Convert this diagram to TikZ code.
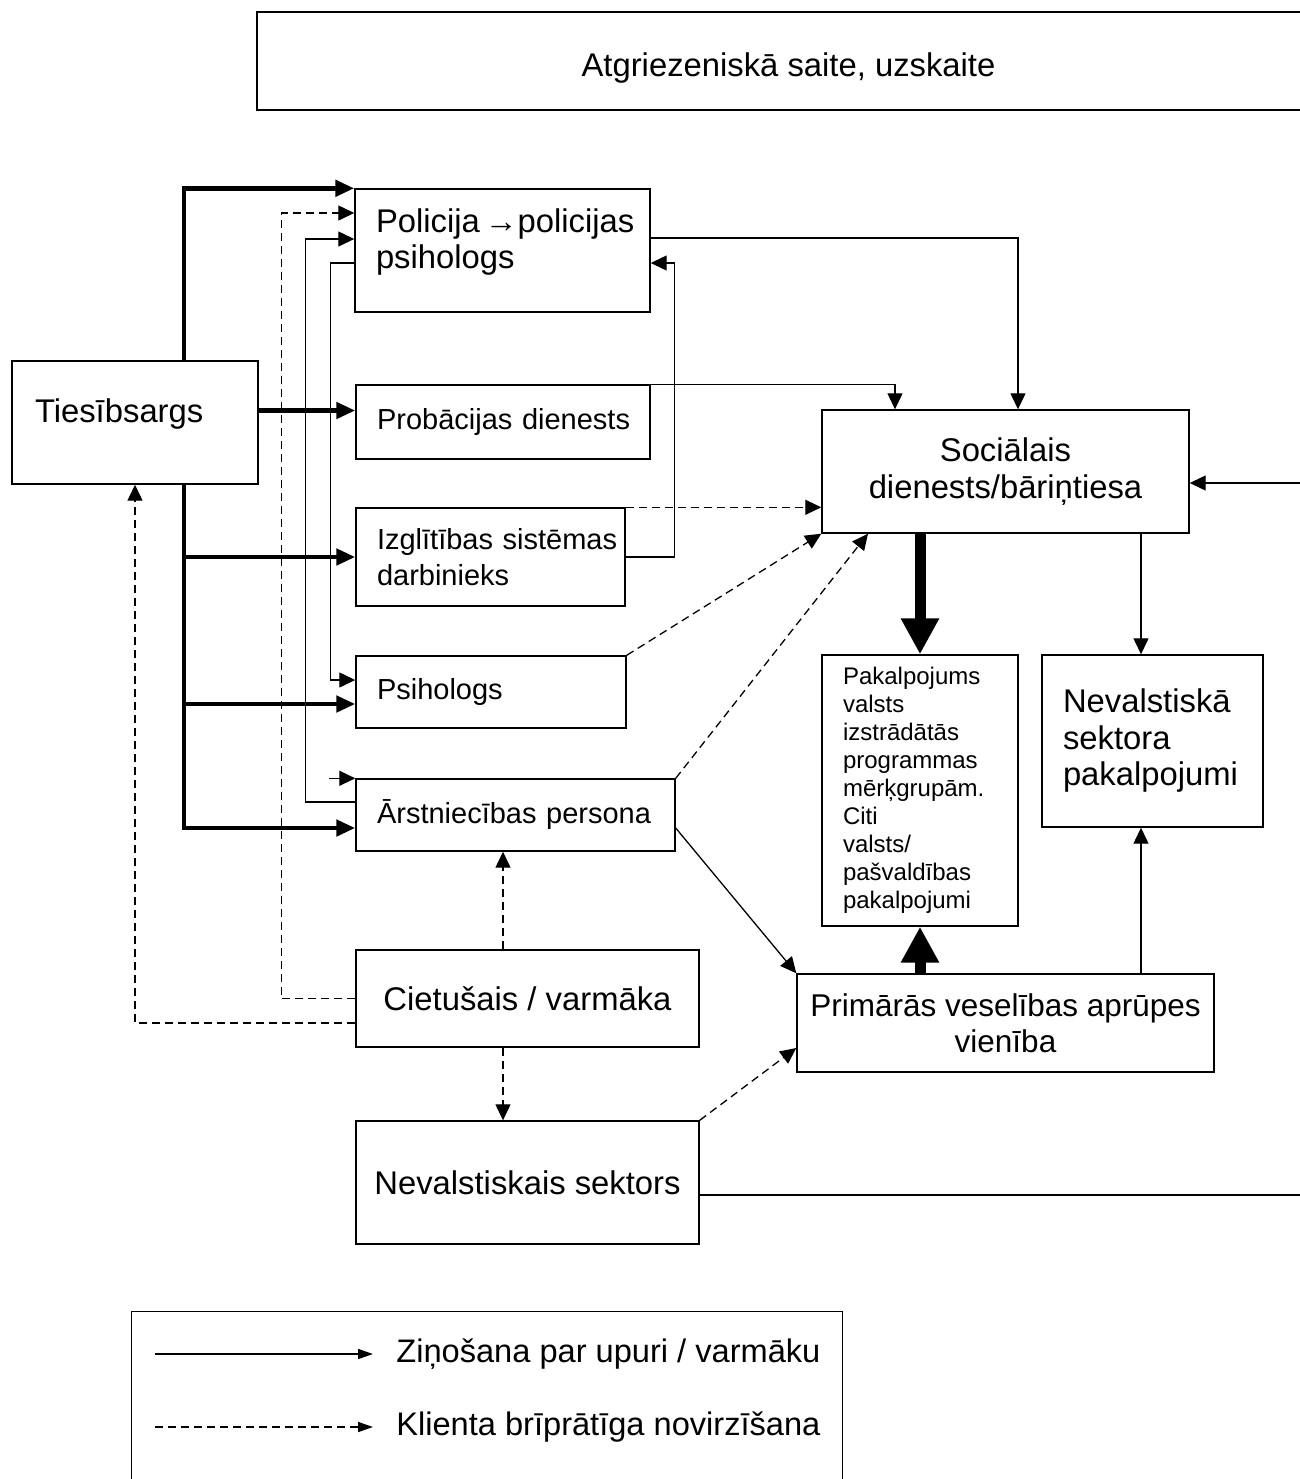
\documentclass[tikz,border=0pt]{standalone}
\usepackage{fontspec}
\setmainfont{Liberation Sans}
\usetikzlibrary{arrows.meta}
\hyphenpenalty=10000
\exhyphenpenalty=10000
\tikzset{b/.style = {draw, line width=0.7pt, inner sep=0pt, align=left, font=\fontsize{14.5}{18}\selectfont},
    B/.style = {b, font=\fontsize{16.4}{18.25}\selectfont},
    s/.style = {line width=0.65pt, -{Triangle[length=8pt,width=7.5pt]}},
    d/.style = {s, dash pattern=on 4pt off 2.5pt},
    t/.style = {line width=2.4pt, -{Triangle[length=9.5pt,width=8pt]}},
    w/.style = {line width=5.5pt, -{Triangle[length=18pt,width=18pt]}},
    e/.style = {anchor=west, inner xsep=11.5pt, font=\fontsize{16.3}{18}\selectfont}}

\begin{document}
\begin{tikzpicture}[x=0.5pt, y=-0.5pt]
        \useasboundingbox (0,0) rectangle (1300,1479);

        \node[B, minimum width=531.5pt, minimum height=49pt, align=center, text height=18.4pt] (fb) at (788.5,61) {Atgriezeniskā saite, uzskaite};
        \node[B, minimum width=123pt, minimum height=61.5pt, text width=100pt, text depth=12pt] (tb) at (135,422.5) {Tiesībsargs};
        \node[B, minimum width=147.5pt, minimum height=61.5pt, text width=126.5pt, text depth=30pt] (po) at (502.5,250.5) {\mbox{Policija \kern-3pt→policijas}\\psihologs};
        \node[b, minimum width=147pt, minimum height=37pt, text width=126pt] (pr) at (503,422) {\mbox{Probācijas dienests}};
        \node[b, minimum width=134.5pt, minimum height=49pt, text width=113.5pt] (iz) at (490.5,557) {\mbox{Izglītības sistēmas}\\darbinieks};
        \node[b, minimum width=135pt, minimum height=36pt, text width=114pt] (ps) at (491,692) {Psihologs};
        \node[b, minimum width=159.5pt, minimum height=36pt, text width=138.5pt] (ar) at (515.5,815) {\mbox{Ārstniecības persona}};
        \node[B, minimum width=171.5pt, minimum height=48.5pt] (ci) at (527.5,998.5) {Cietušais / varmāka};
        \node[B, minimum width=171.5pt, minimum height=61.5pt] (ns) at (527.5,1182.5) {Nevalstiskais sektors};
        \node[B, minimum width=183.5pt, minimum height=61.5pt, align=center] (so) at (1005.5,471.5) {Sociālais\\dienests/bāriņtiesa};
        \node[b, minimum width=98pt, minimum height=135.5pt, text width=77pt, font=\fontsize{12}{14}\selectfont] (pk) at (920,790.5) {Pakalpojums\\valsts\\izstrādātās\\programmas\\mērķgrupām.\\Citi\\valsts/\\pašvaldības\\pakalpojumi};
        \node[B, minimum width=110.5pt, minimum height=86pt, text width=89.5pt] (np) at (1152.5,741) {Nevalstiskā\\sektora\\pakalpojumi};
        \node[B, minimum width=208.5pt, minimum height=49pt, align=center, font=\fontsize{15.75}{18.25}\selectfont] (pv) at (1005.5,1023) {Primārās veselības aprūpes\\vienība};
        \node[b, minimum width=355.5pt, minimum height=110pt, anchor=north west] (lg) at (131,1311) {};
        \node[e] (l1) at (373,1354) {Ziņošana par upuri / varmāku};
        \node[e] (l2) at (373,1427) {Klienta brīprātīga novirzīšana};

        \coordinate (k) at ([xshift=24.5pt]tb.center);
        \coordinate (st) at ([xshift=-13pt]ar.north west);

        \draw[t] (tb.north -| k) |- (po.north west);
        \draw[t] ([yshift=6pt]tb.east) -- ([yshift=6pt]tb.east -| pr.west);
        \draw[t] (tb.south -| k) |- ([yshift=-6.5pt]ar.west);
        \foreach \n/\y in {iz/0pt, ps/-6pt} \draw[t] ([yshift=\y]\n.west -| k) -- ([yshift=\y]\n.west);

        \draw[d] (ci.west) -- ++(-37pt,0) |- ([yshift=18.75pt]po.west);
        \draw[s] ([yshift=6.5pt]ar.west) -- ++(-25pt,0) |- ([yshift=5.75pt]po.west);
        \draw[s] ([yshift=-6.25pt]po.west) -- ++(-12pt,0) |- ([yshift=6pt]ps.west);
        \draw[s] (st) -- (ar.north west);
        \draw[d] ([yshift=-12.25pt]ci.west) -| (tb.south);
        \draw[d] ([xshift=-12.25pt]ci.north) -- ([xshift=-12.25pt]ci.north |- ar.south);
        \draw[d] ([xshift=-12.25pt]ci.south) -- ([xshift=-12.25pt]ns.north);

        \draw[s] ([yshift=6.25pt]po.east) -| ([xshift=6.25pt]so.north);
        \draw[s] (iz.east) -- ++(24.5pt,0) |- ([yshift=-6.25pt]po.east);
        \draw[s] (pr.north east) -| ([xshift=-55.25pt]so.north);
        \draw[d] (iz.north east) -- (iz.north east -| so.west);
        \draw[d] (ps.north east) -- (so.south west);
        \draw[d] (ar.north east) -- ([xshift=-68.75pt]so.south);

        \draw[w] (so.south -| pk) -- (pk.north);
        \draw[w] (pv.north -| pk) -- (pk.south);
        \draw[s] ([xshift=-5.75pt]np.north |- so.south) -- ([xshift=-5.75pt]np.north);
        \draw[s] ([xshift=-5.75pt]np.south |- pv.north) -- ([xshift=-5.75pt]np.south);
        \draw[s] ([yshift=-6.5pt]ar.east) -- (pv.north west);
        \draw[d] (ns.north east) -- ([yshift=-12.5pt]pv.west);
        \draw[s] ([yshift=-6.25pt]ns.east) -- ++(310pt,0) |- ([yshift=-5.75pt]so.east);

        \draw[s, line width=0.8pt, -{Triangle[length=7.5pt,width=5pt]}] ([xshift=12pt]lg.west |- l1.west) -- (l1.west);
        \draw[d, line width=0.8pt, -{Triangle[length=7.5pt,width=5pt]}] ([xshift=12pt]lg.west |- l2.west) -- (l2.west);
    \end{tikzpicture}
\end{document}
